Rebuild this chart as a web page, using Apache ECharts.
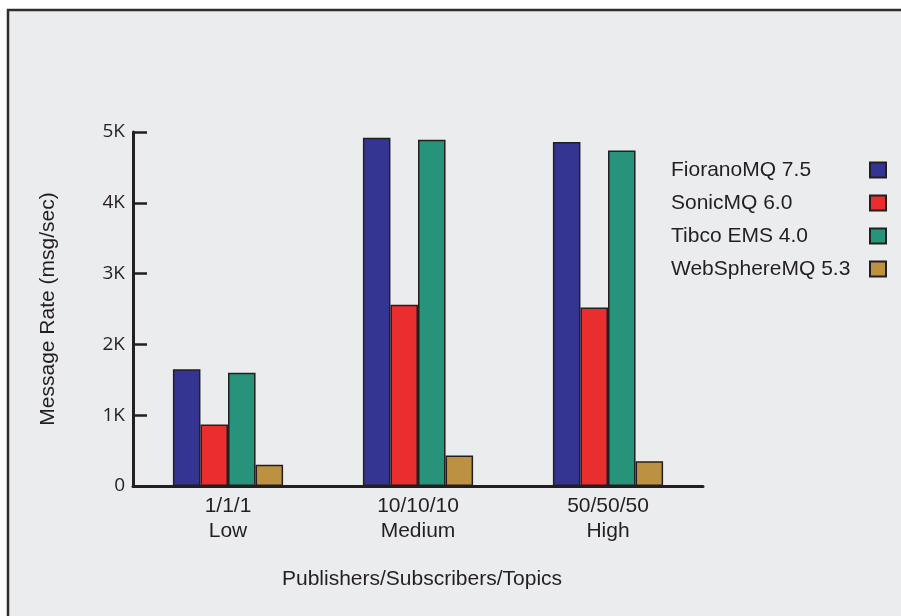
<!DOCTYPE html>
<html>
<head>
<meta charset="utf-8">
<script src="https://cdn.jsdelivr.net/npm/echarts@6/dist/echarts.min.js"></script>
<style>
html,body{margin:0;padding:0;background:#ffffff;}
#chart{width:901px;height:616px;}
</style>
</head>
<body>
<div id="chart"></div>
<script>
var categories = ['1/1/1\nLow', '10/10/10\nMedium', '50/50/50\nHigh'];
var seriesNames = ['FioranoMQ 7.5', 'SonicMQ 6.0', 'Tibco EMS 4.0', 'WebSphereMQ 5.3'];
var fiorano = [1650, 4920, 4860];
var sonic = [870, 2560, 2520];
var tibco = [1600, 4890, 4740];
var websphere = [300, 430, 350];
var yTickLabels = ['0', '1K', '2K', '3K', '4K', '5K'];
var colors = ['#343593', '#ea2d2e', '#27937a', '#bd9142'];

var values = [fiorano, sonic, tibco, websphere];
var dark = '#231f20';
var font = 'Liberation Sans, Arial, sans-serif';

var chart = echarts.init(document.getElementById('chart'), null, {renderer: 'canvas'});
var option = {
  animation: false,
  backgroundColor: '#ffffff',
  graphic: [{
    type: 'rect',
    z: -10,
    silent: true,
    shape: {x: 8, y: 10, width: 1000, height: 700},
    style: {fill: '#ebecee', stroke: '#2e2e2e', lineWidth: 2.5}
  }],
  grid: {left: 133, right: 198, top: 132, bottom: 130, containLabel: false},
  legend: {
    orient: 'vertical',
    left: 666,
    top: 154,
    align: 'right',
    itemWidth: 16,
    itemHeight: 15,
    itemGap: 11,
    icon: 'rect',
    data: seriesNames,
    formatter: function (name) { return '{t|' + name + '}'; },
    textStyle: {
      fontFamily: font, fontSize: 21, color: dark, lineHeight: 22,
      rich: {t: {fontFamily: font, fontSize: 21, color: dark, width: 194, align: 'left', lineHeight: 22}}
    }
  },
  xAxis: {
    type: 'category',
    data: categories,
    name: 'Publishers/Subscribers/Topics',
    nameLocation: 'middle',
    nameGap: 83,
    nameTextStyle: {fontFamily: font, fontSize: 21, color: dark, padding: [0, 0, 0, 8]},
    axisLine: {lineStyle: {color: dark, width: 3}},
    axisTick: {inside: true, length: 8, lineStyle: {color: dark, width: 2.5}},
    axisLabel: {fontFamily: font, fontSize: 21, color: dark, lineHeight: 25, margin: 8}
  },
  yAxis: {
    type: 'value',
    min: 0,
    max: 5000,
    interval: 1000,
    name: 'Message Rate (msg/sec)',
    nameLocation: 'middle',
    nameRotate: 90,
    nameGap: 74,
    nameTextStyle: {fontFamily: font, fontSize: 21, color: dark},
    axisLine: {show: true, lineStyle: {color: dark, width: 3}},
    axisTick: {show: true, inside: true, length: 14, lineStyle: {color: dark, width: 2.5}},
    splitLine: {show: false},
    axisLabel: {
      fontFamily: 'Open Sans, sans-serif', fontSize: 19, color: dark, margin: 8,
      formatter: function (v) { return yTickLabels[Math.round(v / 1000)]; }
    }
  },
  series: seriesNames.map(function (name, i) {
    return {
      name: name,
      type: 'bar',
      data: values[i],
      barGap: '0%',
      barCategoryGap: '42%',
      itemStyle: {color: colors[i], borderColor: dark, borderWidth: 1.5}
    };
  })
};
chart.setOption(option);
</script>
</body>
</html>
